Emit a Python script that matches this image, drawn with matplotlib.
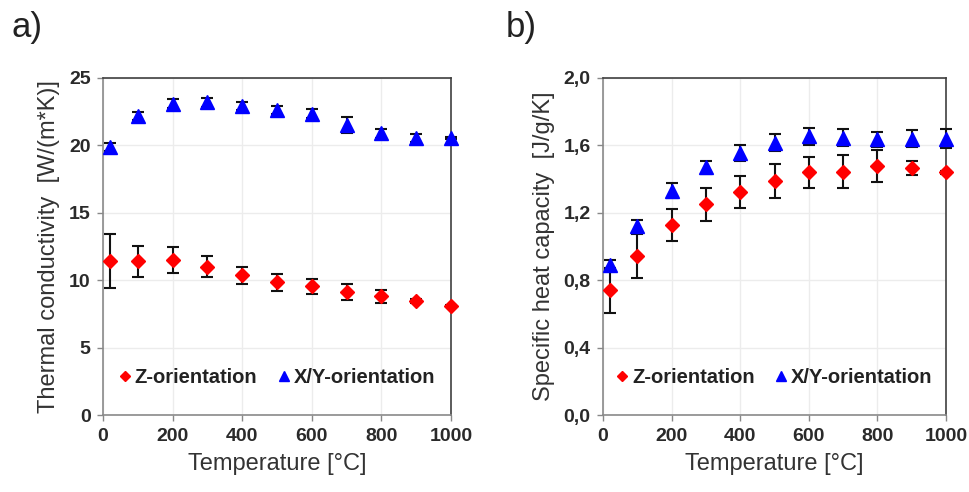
import matplotlib
matplotlib.use("Agg")
import matplotlib.pyplot as plt
from matplotlib.lines import Line2D
from matplotlib.ticker import FuncFormatter

plt.rcParams['font.family'] = ['Liberation Sans', 'DejaVu Sans']

# %% Data
temperature = [20, 100, 200, 300, 400, 500, 600, 700, 800, 900, 1000]

# thermal conductivity [W/(m*K)]
tc_z = [11.4, 11.4, 11.5, 11.0, 10.35, 9.85, 9.55, 9.1, 8.8, 8.45, 8.1]
tc_z_err = [2.0, 1.15, 0.97, 0.77, 0.65, 0.62, 0.56, 0.6, 0.5, 0.15, 0.05]
tc_xy = [19.9, 22.2, 23.1, 23.2, 22.95, 22.65, 22.35, 21.5, 20.9, 20.55, 20.55]
tc_xy_err = [0.3, 0.3, 0.35, 0.35, 0.3, 0.3, 0.35, 0.6, 0.35, 0.3, 0.1]

# specific heat capacity [J/g/K]
cp_z = [0.74, 0.945, 1.13, 1.25, 1.325, 1.39, 1.44, 1.445, 1.48, 1.465, 1.44]
cp_z_err = [0.135, 0.13, 0.095, 0.1, 0.094, 0.1, 0.094, 0.1, 0.095, 0.04, 0.01]
cp_xy = [0.89, 1.12, 1.33, 1.47, 1.555, 1.615, 1.655, 1.645, 1.635, 1.64, 1.64]
cp_xy_err = [0.03, 0.04, 0.045, 0.04, 0.05, 0.05, 0.05, 0.05, 0.047, 0.05, 0.055]

x_ticks = [0, 200, 400, 600, 800, 1000]
tc_ticks = [0, 5, 10, 15, 20, 25]
cp_ticks = [0.0, 0.4, 0.8, 1.2, 1.6, 2.0]

TXT = '#2a2a2a'
RED = '#ff0000'
BLUE = '#0000ff'


def style_axes(ax, yticks, fmt):
    ax.set_xlim(0, 1000)
    ax.set_ylim(yticks[0], yticks[-1])
    ax.set_xticks(x_ticks)
    ax.set_yticks(yticks)
    ax.yaxis.set_major_formatter(FuncFormatter(fmt))
    ax.grid(True, color='#ececec', lw=1.0, zorder=0)
    ax.set_axisbelow(True)
    ax.tick_params(direction='out', length=4, width=1, color='#888888',
                   labelsize=14, labelcolor=TXT, pad=5)
    for lbl in ax.get_xticklabels() + ax.get_yticklabels():
        lbl.set_fontweight('bold')
    ax.spines['left'].set_color('#8a8a8a')
    ax.spines['bottom'].set_color('#8a8a8a')
    ax.spines['top'].set_color('#404040')
    ax.spines['right'].set_color('#404040')
    for s in ax.spines.values():
        s.set_linewidth(1.2)
    ax.set_xlabel('Temperature [°C]', fontsize=17, color='#333333', labelpad=6)


def plot_series(ax, z, z_err, xy, xy_err):
    for vals, errs, mk, col, ms in [(xy, xy_err, '^', BLUE, 10.5),
                                    (z, z_err, 'D', RED, 7.5)]:
        cont = ax.errorbar(temperature, vals, yerr=errs, fmt=mk, color=col, ms=ms,
                           ecolor='#111111', elinewidth=1.5, capsize=4, capthick=1.5,
                           zorder=3)
        data_line, caplines, barcols = cont.lines
        arts = [data_line] + list(caplines) + list(barcols)
        for art in arts:
            art.set_clip_on(False)
    handles = [Line2D([], [], ls='none', marker='D', color=RED, ms=5.5),
               Line2D([], [], ls='none', marker='^', color=BLUE, ms=7)]
    leg = ax.legend(handles, ['Z-orientation', 'X/Y-orientation'], loc='center',
                    bbox_to_anchor=(0.5, 0.11), ncol=2, frameon=False,
                    handlelength=0.6, handletextpad=0.2, columnspacing=1.0,
                    prop={'size': 14.5, 'weight': 'bold'})
    for t in leg.get_texts():
        t.set_color('#222222')


fig = plt.figure(figsize=(9.69, 4.92), dpi=100)
ax1 = fig.add_axes([0.1063, 0.1565, 0.3591, 0.685])
ax2 = fig.add_axes([0.6223, 0.1565, 0.354, 0.685])

plot_series(ax1, tc_z, tc_z_err, tc_xy, tc_xy_err)
style_axes(ax1, tc_ticks, lambda v, p: f'{v:.0f}')
ax1.set_ylabel('Thermal conductivity  [W/(m*K)]', fontsize=17, color='#333333', labelpad=6)

plot_series(ax2, cp_z, cp_z_err, cp_xy, cp_xy_err)
style_axes(ax2, cp_ticks, lambda v, p: f'{v:.1f}'.replace('.', ','))
ax2.set_ylabel('Specific heat capacity  [J/g/K]', fontsize=17, color='#333333', labelpad=6)

fig.text(0.012, 0.945, 'a)', fontsize=25, color='#222222', va='center', ha='left')
fig.text(0.522, 0.945, 'b)', fontsize=25, color='#222222', va='center', ha='left')

fig.savefig('out.png', dpi=100)
